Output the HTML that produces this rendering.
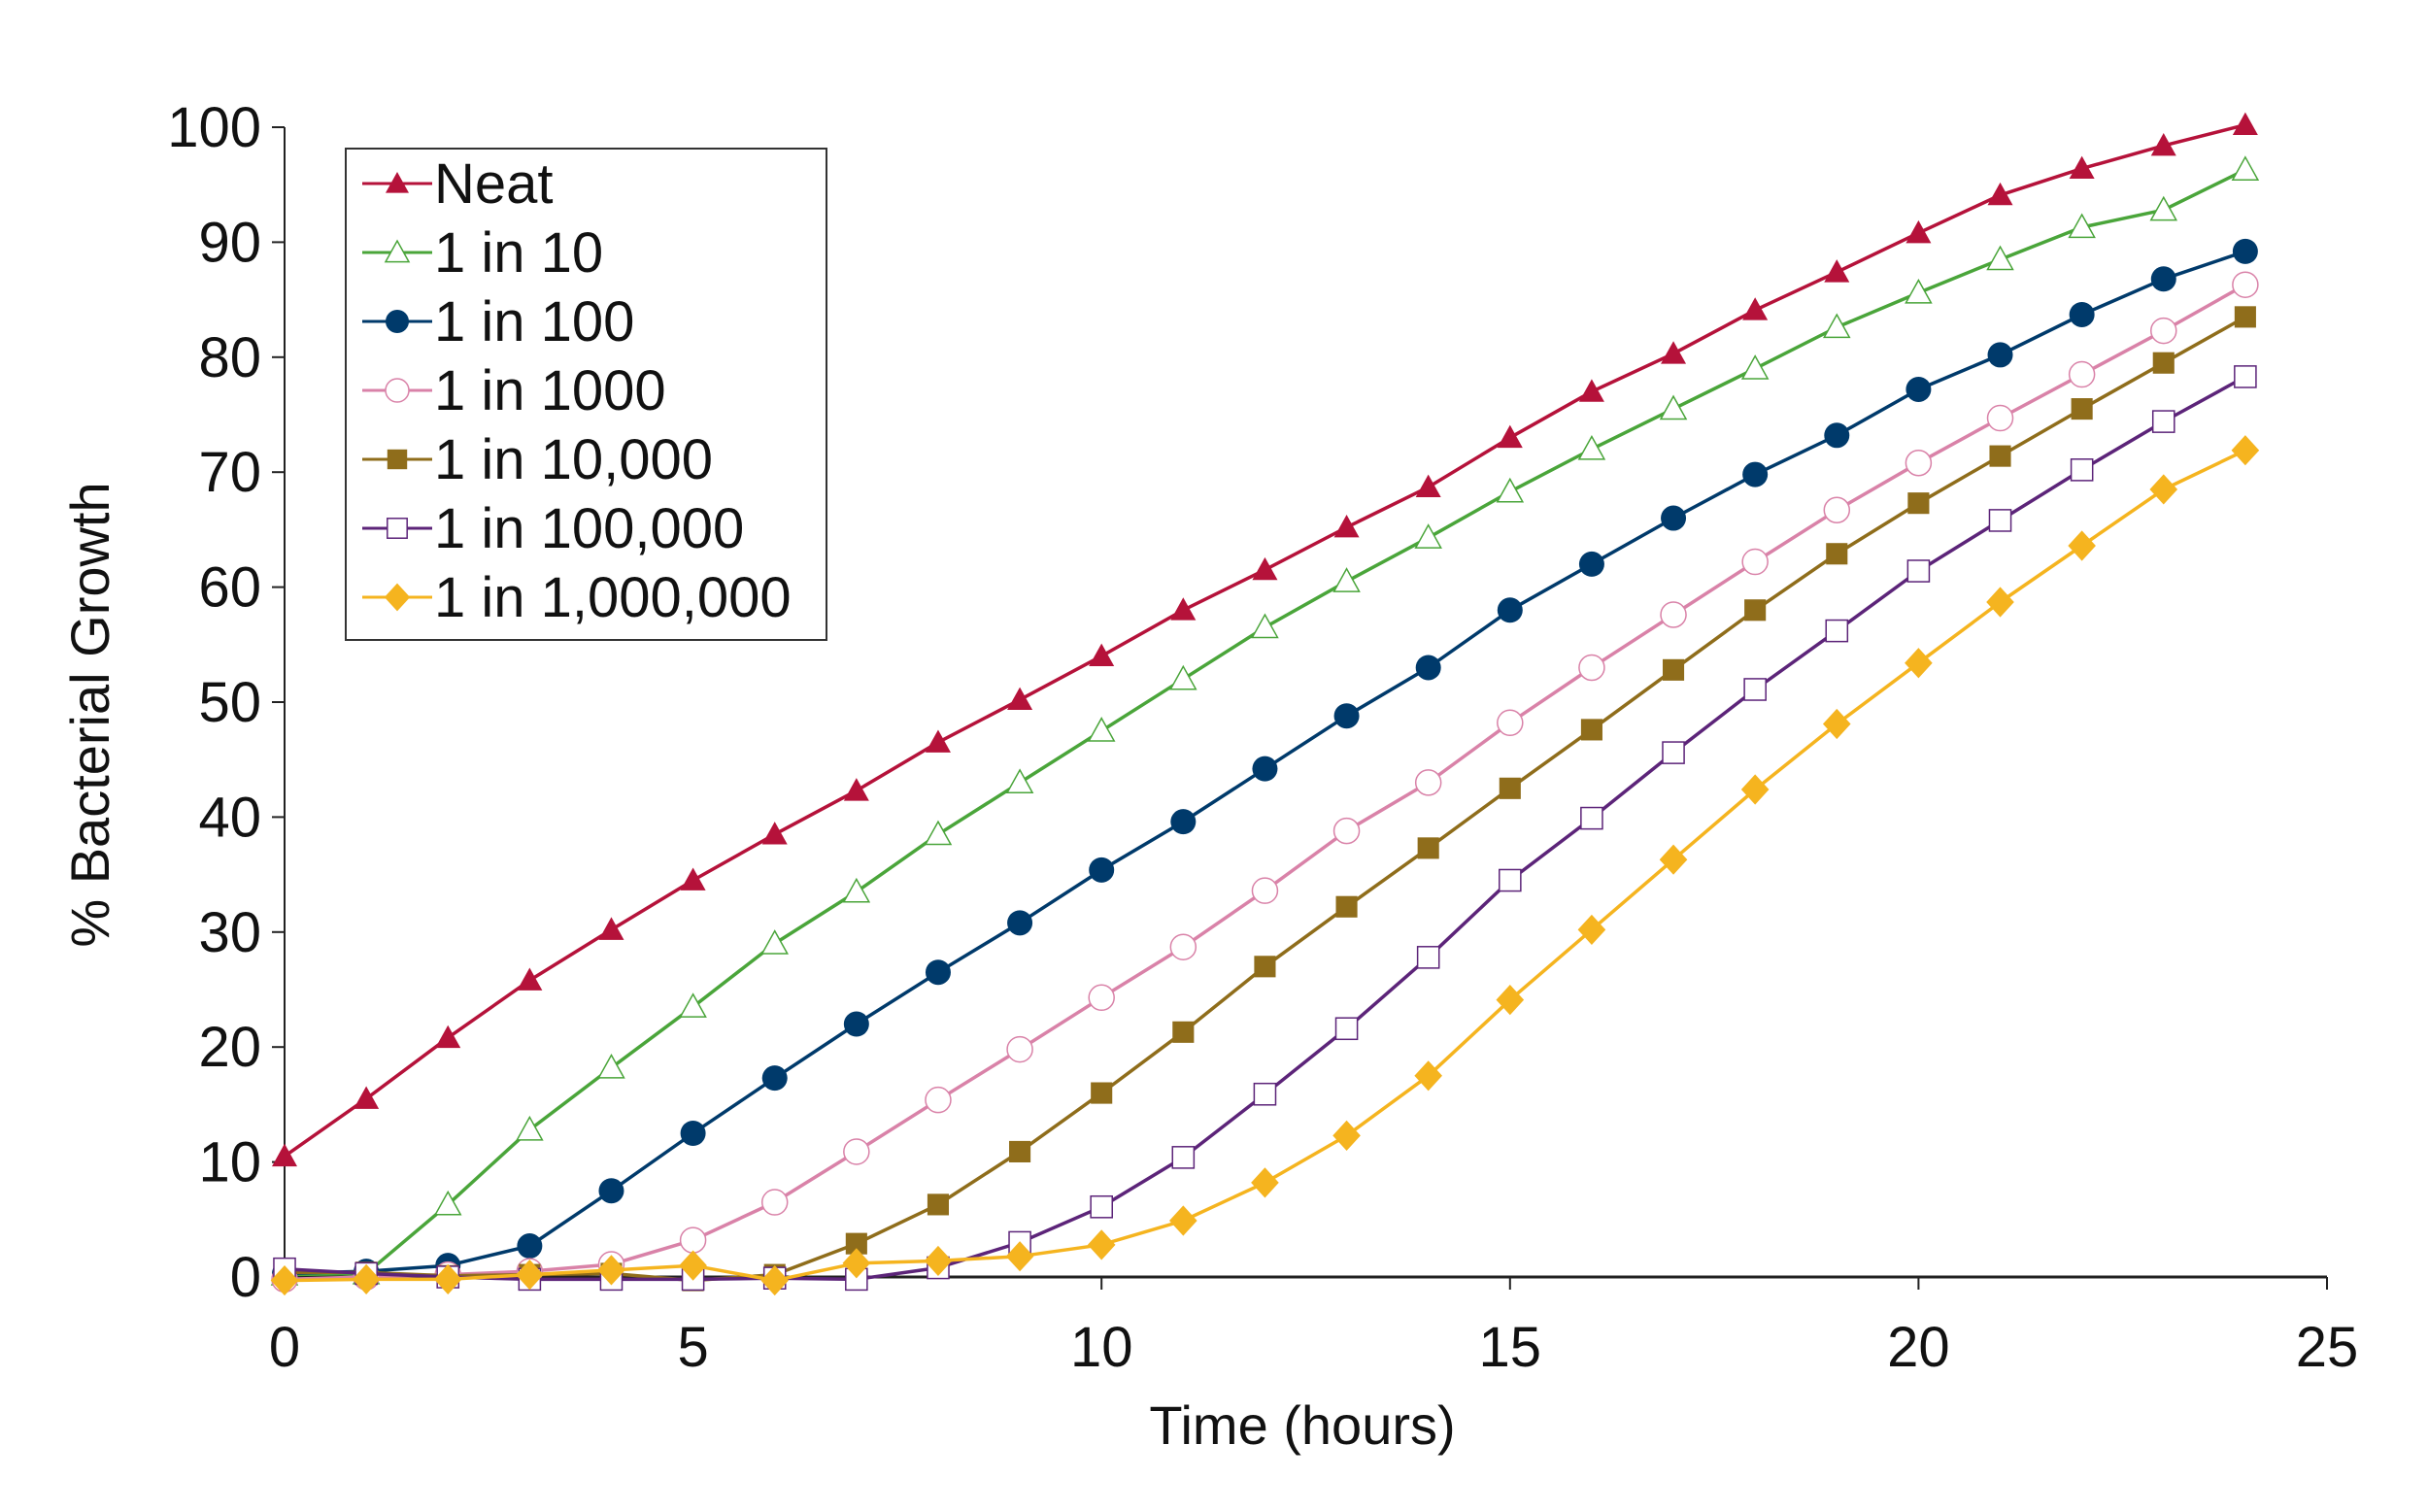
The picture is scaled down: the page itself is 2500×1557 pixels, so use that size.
<!DOCTYPE html>
<html><head><meta charset="utf-8">
<style>
html,body{margin:0;padding:0;background:#fff;}
svg{display:block;}
text{font-family:"Liberation Sans Narrow","Liberation Sans",sans-serif;fill:#111;}
</style></head>
<body>
<svg id="chart" width="2500" height="1557" viewBox="0 0 2500 1557" xmlns="http://www.w3.org/2000/svg">
<g id="axes"></g>
<g id="series"></g>
<text transform="translate(112,736) rotate(-90)" text-anchor="middle" font-size="56">% Bacterial Growth</text>
<text x="1341" y="1487" text-anchor="middle" font-size="56">Time (hours)</text>
<g id="legend"></g>
</svg>
<script>
const hours = [0,1,2,3,4,5,6,7,8,9,10,11,12,13,14,15,16,17,18,19,20,21,22,23,24];
const xTicks = [0,5,10,15,20,25];
const yTicks = [0,10,20,30,40,50,60,70,80,90,100];
const seriesNames = ["Neat","1 in 10","1 in 100","1 in 1000","1 in 10,000","1 in 100,000","1 in 1,000,000"];
const neat = [10.5,15.5,20.8,25.8,30.2,34.5,38.5,42.3,46.5,50.2,54,58,61.5,65.2,68.7,73,77,80.3,84.1,87.4,90.8,94.1,96.4,98.4,100.2];
const in10 = [0.2,0.3,6.3,12.8,18.2,23.5,29,33.5,38.5,43,47.5,52,56.5,60.5,64.3,68.3,72,75.5,79,82.6,85.6,88.5,91.3,92.8,96.3];
const in100 = [0.3,0.5,1,2.7,7.5,12.5,17.3,22,26.5,30.8,35.4,39.6,44.2,48.8,53,58,62,66,69.8,73.2,77.2,80.2,83.7,86.8,89.2];
const in1000 = [-0.2,0,0.2,0.5,1.1,3.2,6.5,10.9,15.4,19.8,24.3,28.7,33.6,38.8,43,48.2,53,57.6,62.2,66.7,70.8,74.7,78.5,82.3,86.3];
const in10k = [0.4,0.4,0.1,0.2,0.3,-0.3,0.2,2.9,6.3,10.9,16,21.3,27,32.2,37.3,42.5,47.6,52.8,58,62.9,67.3,71.4,75.5,79.5,83.5];
const in100k = [0.7,0.3,0,-0.2,-0.2,-0.2,-0.1,-0.2,0.8,3,6.1,10.4,15.9,21.6,27.8,34.5,39.9,45.6,51.1,56.2,61.4,65.8,70.2,74.4,78.3];
const in1m = [-0.3,-0.2,-0.2,0.2,0.6,1,-0.3,1.2,1.4,1.8,2.8,4.9,8.2,12.3,17.5,24.1,30.2,36.3,42.4,48.1,53.4,58.7,63.6,68.5,71.9];

const NS = "http://www.w3.org/2000/svg";
const X0 = 293, X1 = 2396, Y0 = 1315, Y1 = 131;
function xs(v){ return X0 + (v/25)*(X1-X0); }
function ys(v){ return Y0 - (v/100)*(Y0-Y1); }
function mk(tag, attrs, parent){
  const e = document.createElementNS(NS, tag);
  for (const k in attrs) e.setAttribute(k, attrs[k]);
  parent.appendChild(e);
  return e;
}
const axes = document.getElementById('axes');
let a = mk('line',{x1:X0,y1:Y1,x2:X0,y2:Y0,stroke:'#222','stroke-width':2},axes);


a = mk('line',{x1:X0,y1:Y0,x2:X1,y2:Y0,stroke:'#222','stroke-width':3},axes);


yTicks.forEach(t=>{
  const l = mk('line',{x1:X0-13,y1:ys(t),x2:X0,y2:ys(t),stroke:'#222','stroke-width':2},axes);
  
  
  const tx = mk('text',{x:X0-24,y:ys(t)+20,'text-anchor':'end','font-size':58},axes);
  
  
  tx.textContent = t;
});
xTicks.forEach(t=>{
  const l = mk('line',{x1:xs(t),y1:Y0,x2:xs(t),y2:Y0+13,stroke:'#222','stroke-width':2},axes);
  
  
  const tx = mk('text',{x:xs(t),y:Y0+92,'text-anchor':'middle','font-size':58},axes);
  
  
  tx.textContent = t;
});

const seriesData = [neat,in10,in100,in1000,in10k,in100k,in1m];
const colors = ['#b5123a','#4aa53a','#003a6b','#d982a8','#8f6d1b','#5c2479','#f5b41f'];
const markers = ['tri','tri-open','circle','circle-open','square','square-open','diamond'];
const slugs = ['neat','1-in-10','1-in-100','1-in-1000','1-in-10000','1-in-100000','1-in-1000000'];

function marker(type, cx, cy, color, parent, s){
  s = s || 13;
  let e;
  if (type==='tri' || type==='tri-open'){
    e = mk('polygon',{points:`${cx},${cy-s} ${cx+s},${cy+s*0.8} ${cx-s},${cy+s*0.8}`},parent);
  } else if (type==='circle' || type==='circle-open'){
    e = mk('circle',{cx:cx,cy:cy,r:s},parent);
  } else if (type==='square' || type==='square-open'){
    e = mk('rect',{x:cx-s*0.85,y:cy-s*0.85,width:s*1.7,height:s*1.7},parent);
  } else {
    e = mk('polygon',{points:`${cx},${cy-s*1.2} ${cx+s*1.1},${cy} ${cx},${cy+s*1.2} ${cx-s*1.1},${cy}`},parent);
  }
  if (type.endsWith('open')){ e.setAttribute('fill','#fff'); e.setAttribute('stroke',color); e.setAttribute('stroke-width',1.5); }
  else { e.setAttribute('fill',color); }
  return e;
}

const sg = document.getElementById('series');
seriesData.forEach((vals,i)=>{
  const g = mk('g',{},sg);
  
  
  const pts = vals.map((v,j)=>xs(hours[j]).toFixed(1)+','+ys(v).toFixed(1)).join(' ');
  const pl = mk('polyline',{points:pts,fill:'none',stroke:colors[i],'stroke-width':3.5,'stroke-linejoin':'round'},g);
  
  
  vals.forEach((v,j)=>{
    const m = marker(markers[i], xs(hours[j]), ys(v), colors[i], g);
    
    
  });
});

const lg = document.getElementById('legend');
const box = mk('rect',{x:356,y:153,width:495,height:506,fill:'#fff',stroke:'#333','stroke-width':2},lg);


seriesNames.forEach((n,i)=>{
  const cy = 189 + i*71;
  const g = mk('g',{},lg);
  
  
  mk('line',{x1:373,y1:cy,x2:445,y2:cy,stroke:colors[i],'stroke-width':3},g);
  marker(markers[i],409,cy,colors[i],g,12);
  const t = mk('text',{x:447,y:cy+20,'font-size':58},g);
  
  
  t.textContent = n;
});
</script>
</body></html>
